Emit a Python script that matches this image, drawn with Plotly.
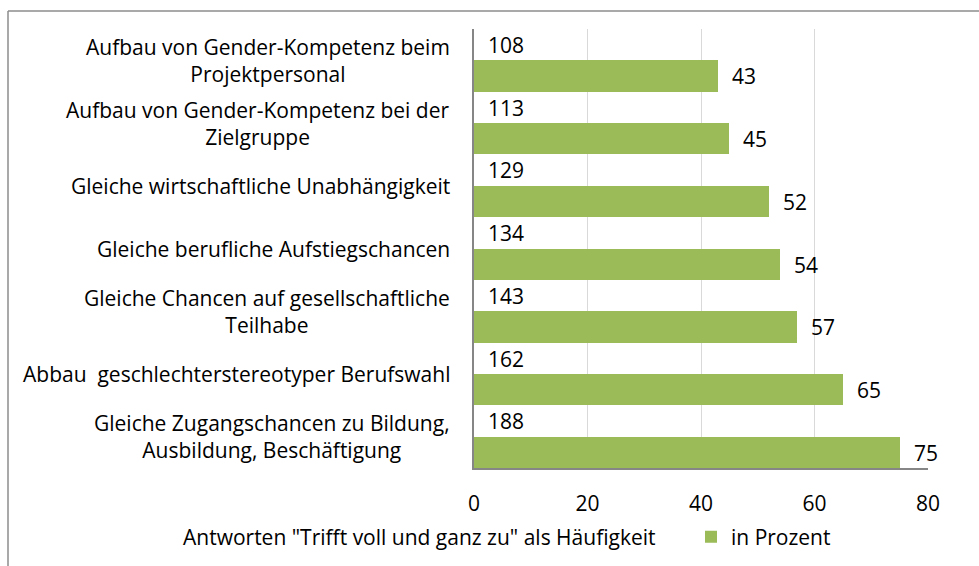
import plotly.graph_objects as go

categories = [
    "Aufbau von Gender-Kompetenz beim<br>Projektpersonal",
    "Aufbau von Gender-Kompetenz bei der<br>Zielgruppe",
    "Gleiche wirtschaftliche Unabhängigkeit",
    "Gleiche berufliche Aufstiegschancen",
    "Gleiche Chancen auf gesellschaftliche<br>Teilhabe",
    "Abbau\u00a0 geschlechterstereotyper Berufswahl",
    "Gleiche Zugangschancen zu Bildung,<br>Ausbildung, Beschäftigung",
]
counts = [108, 113, 129, 134, 143, 162, 188]
percent = [43, 45, 52, 54, 57, 65, 75]
x_ticks = [0, 20, 40, 60, 80]

series_count_name = 'Antworten "Trifft voll und ganz zu" als Häufigkeit'
series_pct_name = "in Prozent"

FONT = "Open Sans"
FS = 21
GREEN = "#9BBB59"

W, H = 979, 566
ML, MR, MT, MB = 474, 51, 29, 98
PW, PH = W - ML - MR, H - MT - MB

fig = go.Figure()

fig.add_trace(go.Bar(
    name=series_count_name,
    y=categories, x=counts, orientation="h",
    xaxis="x2", yaxis="y",
    width=0.5, offset=-0.5,
    marker=dict(color="rgba(0,0,0,0)", line=dict(width=0)),
    text=counts, texttemplate="\u00a0\u00a0%{x}",
    textposition="inside", insidetextanchor="start",
    insidetextfont=dict(family=FONT, size=FS, color="#000000"),
    constraintext="none",
    hoverinfo="skip",
    legend="legend",
))

fig.add_trace(go.Bar(
    name=series_pct_name,
    y=categories, x=percent, orientation="h",
    xaxis="x", yaxis="y",
    width=0.5, offset=0,
    marker=dict(color=GREEN, line=dict(width=0)),
    text=percent, texttemplate="\u00a0\u00a0%{x}",
    textposition="outside",
    outsidetextfont=dict(family=FONT, size=FS, color="#000000"),
    constraintext="none",
    cliponaxis=False,
    legend="legend2",
))

annotations = []
for c in categories:
    annotations.append(dict(
        x=0, xref="paper", y=c, yref="y",
        text=c, showarrow=False, xanchor="right", yanchor="middle",
        align="center", xshift=-22,
        font=dict(family=FONT, size=FS, color="#000000"),
    ))

# outer frame (top and left edges visible)
fx = (8 - ML) / PW
fy = 1 + (MT - 11) / PH
shapes = [
    dict(type="line", xref="paper", yref="paper", x0=fx, x1=(W - ML) / PW + 0.01, y0=fy, y1=fy,
         line=dict(color="#8C8C8C", width=1.5)),
    dict(type="line", xref="paper", yref="paper", x0=fx, x1=fx, y0=fy, y1=-(MB + 5) / PH,
         line=dict(color="#8C8C8C", width=1.5)),
]

leg_y = 1 - 537 / H
legend_font = dict(family=FONT, size=FS, color="#000000")

fig.update_layout(
    width=W, height=H,
    margin=dict(l=ML, r=MR, t=MT, b=MB, autoexpand=False),
    paper_bgcolor="white", plot_bgcolor="white",
    font=dict(family=FONT, size=FS, color="#000000"),
    showlegend=True,
    legend=dict(orientation="h", xref="container", yref="container",
                x=143 / W, xanchor="left", y=leg_y, yanchor="middle",
                font=legend_font, bgcolor="rgba(0,0,0,0)"),
    legend2=dict(orientation="h", xref="container", yref="container",
                 x=691 / W, xanchor="left", y=leg_y, yanchor="middle",
                 font=legend_font, bgcolor="rgba(0,0,0,0)"),
    xaxis=dict(range=[0, 80], tickvals=x_ticks, showgrid=True, gridcolor="#D9D9D9", gridwidth=1,
               zeroline=False, showline=True, linecolor="#868686", linewidth=1.5,
               ticks="outside", ticklen=0, ticklabelstandoff=16,
               tickfont=dict(family=FONT, size=FS, color="#000000"), fixedrange=True),
    xaxis2=dict(range=[0, 200], overlaying="x", visible=False, fixedrange=True),
    yaxis=dict(autorange="reversed", showticklabels=False, showgrid=False, zeroline=False,
               showline=True, linecolor="#868686", linewidth=1.5, ticks="", fixedrange=True),
    annotations=annotations,
    shapes=shapes,
    bargap=0,
)

fig.write_html("out.html", config={"displayModeBar": False},
               post_script="document.body.style.margin='0';")
